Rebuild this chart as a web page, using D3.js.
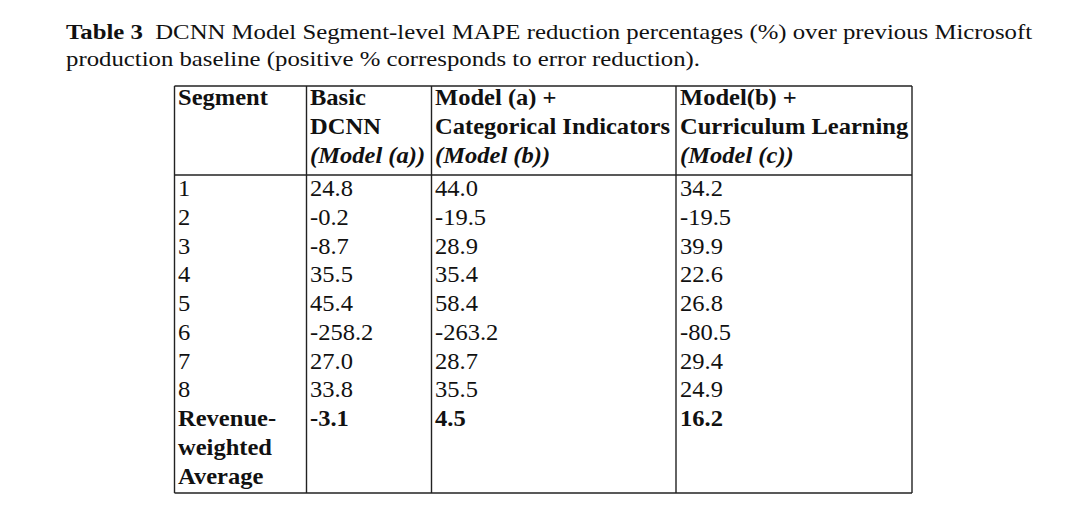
<!DOCTYPE html>
<html><head><meta charset="utf-8">
<script src="https://cdn.jsdelivr.net/npm/d3@7"></script>
<style>html,body{margin:0;padding:0;background:#fff;}</style>
</head><body>
<svg id="c" width="1080" height="515"></svg>
<script>
const titleLines = [
  {bold: "Table 3", rest: "  DCNN Model Segment-level MAPE reduction percentages (%) over previous Microsoft"},
  {bold: "", rest: "production baseline (positive % corresponds to error reduction)."}
];
const columns = ["seg", "a", "b", "c"];
const headerLines = [
  [{t:"Segment"}],
  [{t:"Basic"}, {t:"DCNN"}, {t:"(Model (a))", i:true}],
  [{t:"Model (a) +"}, {t:"Categorical Indicators"}, {t:"(Model (b))", i:true}],
  [{t:"Model(b) +"}, {t:"Curriculum Learning"}, {t:"(Model (c))", i:true}]
];
const segments = ["1","2","3","4","5","6","7","8"];
const modelA = [24.8, -0.2, -8.7, 35.5, 45.4, -258.2, 27.0, 33.8];
const modelB = [44.0, -19.5, 28.9, 35.4, 58.4, -263.2, 28.7, 35.5];
const modelC = [34.2, -19.5, 39.9, 22.6, 26.8, -80.5, 29.4, 24.9];
const avgLabel = ["Revenue-", "weighted", "Average"];
const averages = [-3.1, 4.5, 16.2];

const svg = d3.select("#c");
const serif = "'Liberation Serif','Times New Roman',Times,serif";
const fmt = v => v.toFixed(1);
const TSX = 1.152, BSX = 1.10;

// title
const title = svg.append("g").attr("font-family", serif).attr("font-size", 21.5).attr("fill", "#111");
titleLines.forEach((l, i) => {
  const t = title.append("text").attr("transform", `translate(66,${39 + i * 27}) scale(${TSX},1)`).attr("xml:space","preserve");
  if (l.bold) t.append("tspan").attr("font-weight", "bold").text(l.bold);
  t.append("tspan").text(l.rest);
});

// layout scales
const colEdges = d3.scaleOrdinal().domain(["L","seg","a","b","c"]).range([174.5, 306.5, 431.5, 676, 912]);
const xText = d3.scaleOrdinal().domain(columns).range([178, 310, 435, 680]);
const yHead = d3.scaleLinear().domain([0, 1]).range([105, 134]);
const yRow = d3.scaleLinear().domain([0, 1]).range([196, 224.75]);
const topY = 86, headRuleY = 175, bottomY = 493;

const g = svg.append("g").attr("font-family", serif).attr("font-size", 22.3).attr("fill", "#111");
const put = (x, y, txt) => g.append("text").attr("transform", `translate(${x},${y}) scale(${BSX},1)`).text(txt);

// header
headerLines.forEach((lines, ci) => {
  lines.forEach((ln, li) => {
    put(xText(columns[ci]), yHead(li), ln.t)
      .attr("font-weight", "bold").attr("font-style", ln.i ? "italic" : null);
  });
});

// body rows
const rows = segments.map((s, i) => ({seg: s, a: modelA[i], b: modelB[i], c: modelC[i]}));
rows.forEach((r, i) => {
  columns.forEach(c => {
    put(xText(c), yRow(i), c === "seg" ? r.seg : fmt(r[c]));
  });
});
// average row
const ar = segments.length;
avgLabel.forEach((t, li) => {
  put(xText("seg"), yRow(ar + li), t).attr("font-weight", "bold");
});
averages.forEach((v, k) => {
  put(xText(columns[k + 1]), yRow(ar), fmt(v)).attr("font-weight", "bold");
});

// rules
const rules = svg.append("g").attr("stroke", "#222").attr("stroke-width", 1.4).attr("fill", "none");
[topY, headRuleY, bottomY].forEach(y => {
  rules.append("line").attr("x1", colEdges("L")).attr("x2", colEdges("c")).attr("y1", y).attr("y2", y);
});
["L","seg","a","b","c"].forEach(k => {
  rules.append("line").attr("x1", colEdges(k)).attr("x2", colEdges(k)).attr("y1", topY).attr("y2", bottomY);
});
</script>
</body></html>
